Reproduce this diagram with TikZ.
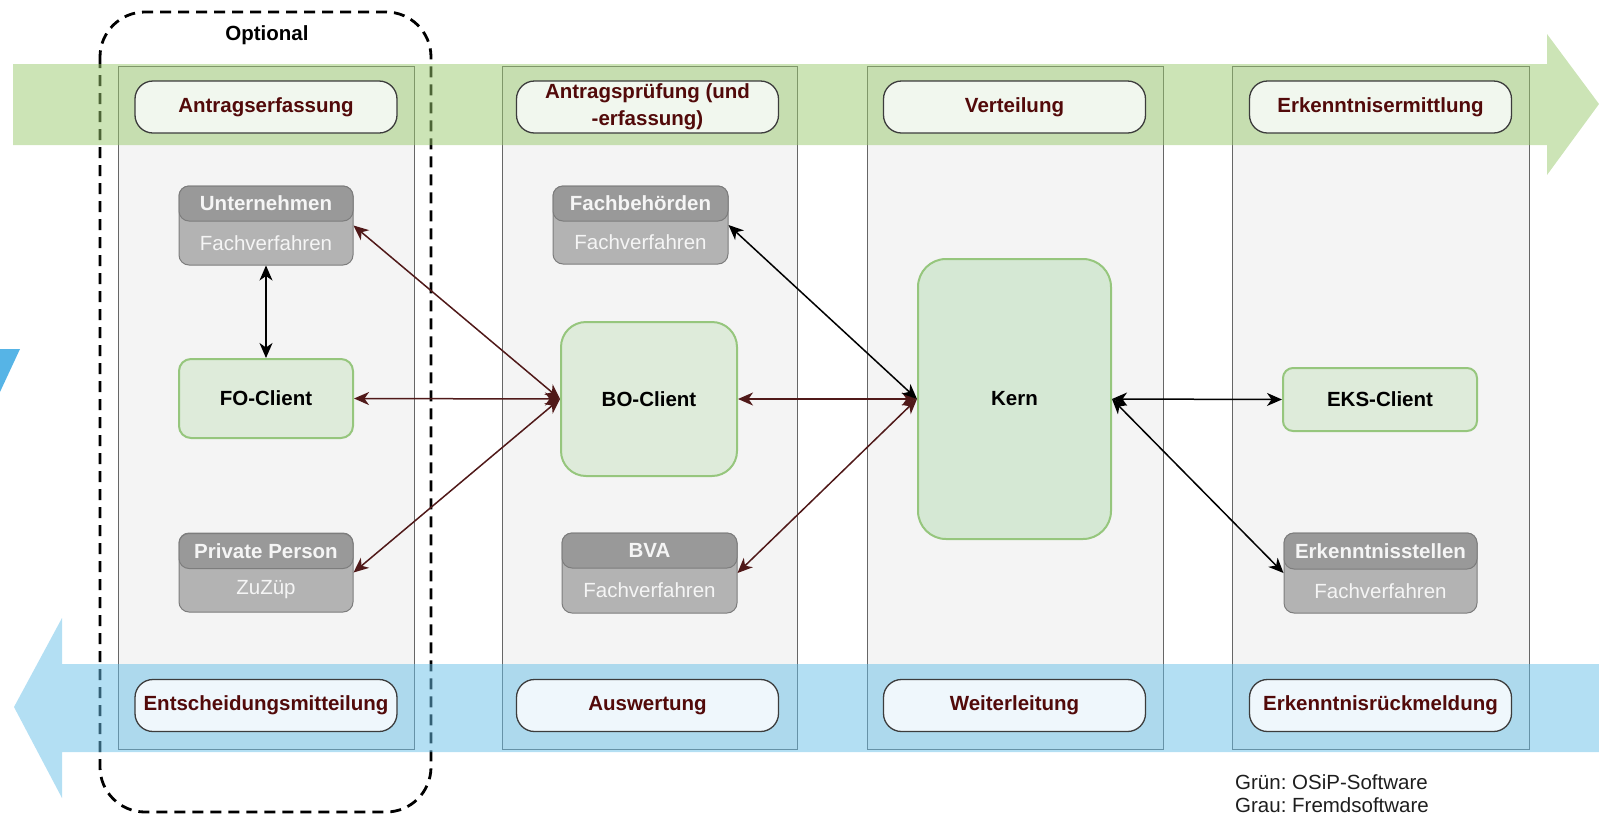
\documentclass[tikz,border=0pt]{standalone}
\usepackage{fontspec}
\setmainfont{Liberation Sans}
\usetikzlibrary{arrows.meta}
\frenchspacing
\definecolor{bandgreen}{RGB}{153,201,109}
\definecolor{bandblue}{RGB}{103,191,232}
\definecolor{panelfill}{RGB}{244,244,244}
\definecolor{panelline}{RGB}{102,102,102}
\definecolor{labelred}{RGB}{82,10,10}
\definecolor{labtopfill}{RGB}{241,247,238}
\definecolor{labbotfill}{RGB}{239,247,252}
\definecolor{labline}{RGB}{60,60,60}
\definecolor{greyhead}{RGB}{153,153,153}
\definecolor{greybody}{RGB}{179,179,179}
\definecolor{greyline}{RGB}{125,125,125}
\definecolor{greytext}{RGB}{245,245,245}
\definecolor{clientfill}{RGB}{222,235,218}
\definecolor{kernfill}{RGB}{213,232,212}
\definecolor{clientline}{RGB}{150,198,125}
\definecolor{arrred}{RGB}{80,25,25}
\definecolor{tri}{RGB}{86,180,230}
\begin{document}
\begin{tikzpicture}[x=1pt,y=-1pt,
  every node/.style={font=\fontsize{20.5}{26}\selectfont, inner sep=0pt},
  panel/.style={draw=panelline, line width=1pt, fill=panelfill, minimum width=296pt, minimum height=683pt},
  labtop/.style={draw=labline, line width=1.3pt, fill=labtopfill, rounded corners=18pt, minimum width=262pt, minimum height=52pt, text=labelred, font=\fontsize{20.5}{26}\selectfont\bfseries, align=center},
  labbot/.style={labtop, fill=labbotfill},
  greybox/.style={draw=greyline, line width=1pt, fill=greybody, rounded corners=10pt, minimum height=79pt},
  greyhd/.style={draw=greyline, line width=1pt, fill=greyhead, rounded corners=10pt, minimum height=35pt, text=greytext, font=\fontsize{20.5}{26}\selectfont\bfseries},
  greytx/.style={text=greytext},
  client/.style={draw=clientline, line width=2pt, fill=clientfill, font=\fontsize{20.5}{26}\selectfont\bfseries},
  conn/.style={line width=1.5pt, black, {Stealth[length=15pt,width=13pt,inset=4.5pt]}-{Stealth[length=15pt,width=13pt,inset=4.5pt]}},
  redconn/.style={conn, draw=arrred, fill=arrred}
]
\useasboundingbox (0,0) rectangle (1599,815);

% left blue fragment
\fill[tri] (0,349) -- (20,349) -- (0,392) -- cycle;

% optional dashed frame
\draw[line width=2.8pt, dash pattern=on 11pt off 7pt, rounded corners=45pt] (100,12) rectangle (431,812);
\node[font=\fontsize{20.5}{26}\selectfont\bfseries] (opt) at (267,35) {Optional};

% panels
\node[panel] (p1) at (266,407.5) {};
\node[panel, minimum width=295pt] (p2) at (649.5,407.5) {};
\node[panel] (p3) at (1015,407.5) {};
\node[panel, minimum width=297pt] (p4) at (1380.5,407.5) {};

% bands
\fill[bandgreen, opacity=0.5] (13,64) -- (1547,64) -- (1547,34) -- (1599,104) -- (1547,175) -- (1547,145) -- (13,145) -- cycle;
\fill[bandblue, opacity=0.5] (1599,664) -- (62,664) -- (62,618) -- (14,707) -- (62,798) -- (62,752) -- (1599,752) -- cycle;

% phase labels
\node[labtop] (l1) at (266,107) {Antragserfassung};
\node[labtop, font=\fontsize{20.5}{27}\selectfont\bfseries] (l2) at (647.5,107) {Antragsprüfung (und\\-erfassung)};
\node[labtop] (l3) at (1014.5,107) {Verteilung};
\node[labtop] (l4) at (1380.5,107) {Erkenntnisermittlung};
\node[labbot] (b1) at (266,705.5) {Entscheidungsmitteilung};
\node[labbot] (b2) at (647.5,705.5) {Auswertung};
\node[labbot] (b3) at (1014.5,705.5) {Weiterleitung};
\node[labbot] (b4) at (1380.5,705.5) {Erkenntnisrückmeldung};

% grey (external) systems
\node[greybox, minimum width=174pt] (unt) at (266,225.5) {};
\node[greyhd, minimum width=174pt] (unth) at (266,203.5) {Unternehmen};
\node[greytx] (untb) at (266,243) {Fachverfahren};

\node[greybox, minimum width=174pt] (pp) at (266,572.5) {};
\node[greyhd, minimum width=174pt] (pph) at (266,551) {Private Person};
\node[greytx] (ppb) at (266,590) {ZuZüp};

\node[greybox, minimum width=175pt, minimum height=78pt] (fb) at (640.5,225) {};
\node[greyhd, minimum width=175pt] (fbh) at (640.5,203.5) {Fachbehörden};
\node[greytx] (fbb) at (640.5,242.5) {Fachverfahren};

\node[greybox, minimum width=175pt, minimum height=80pt] (bva) at (649.5,573) {};
\node[greyhd, minimum width=175pt] (bvah) at (649.5,550.5) {BVA};
\node[greytx] (bvab) at (649.5,590.5) {Fachverfahren};

\node[greybox, minimum width=193pt, minimum height=80pt] (eks2) at (1380.5,573) {};
\node[greyhd, minimum width=193pt, minimum height=36pt] (eks2h) at (1380.5,551) {Erkenntnisstellen};
\node[greytx] (eks2b) at (1380.5,591) {Fachverfahren};

% OSiP software
\node[client, rounded corners=12pt, minimum width=174pt, minimum height=79pt] (fo) at (266,398.5) {FO-Client};
\node[client, rounded corners=25pt, minimum width=176pt, minimum height=154pt] (bo) at (649,399) {BO-Client};
\node[client, fill=kernfill, rounded corners=28pt, minimum width=193pt, minimum height=280pt] (kern) at (1014.5,399) {Kern};
\node[client, rounded corners=10pt, minimum width=194pt, minimum height=63pt] (eks) at (1380,399.5) {EKS-Client};

% connectors
\draw[conn] (fo.north) -- (unt.south);
\draw[redconn] (bo.west) -- (unt.east);
\draw[redconn] (bo.west) -- (fo.east);
\draw[redconn] (bo.west) -- (pp.east);
\draw[redconn] (kern.west) -- (bo.east);
\draw[conn] (kern.west) -- (fb.east);
\draw[redconn] (kern.west) -- (bva.east);
\draw[conn] (kern.east) -- (eks.west);
\draw[conn] (kern.east) -- (eks2.west);

% legend
\node[anchor=west, text={rgb,255:red,30;green,30;blue,30}] (lg1) at (1235,782) {Grün: OSiP-Software};
\node[anchor=west, text={rgb,255:red,30;green,30;blue,30}] (lg2) at (1235,805) {Grau: Fremdsoftware};
\end{tikzpicture}
\end{document}
